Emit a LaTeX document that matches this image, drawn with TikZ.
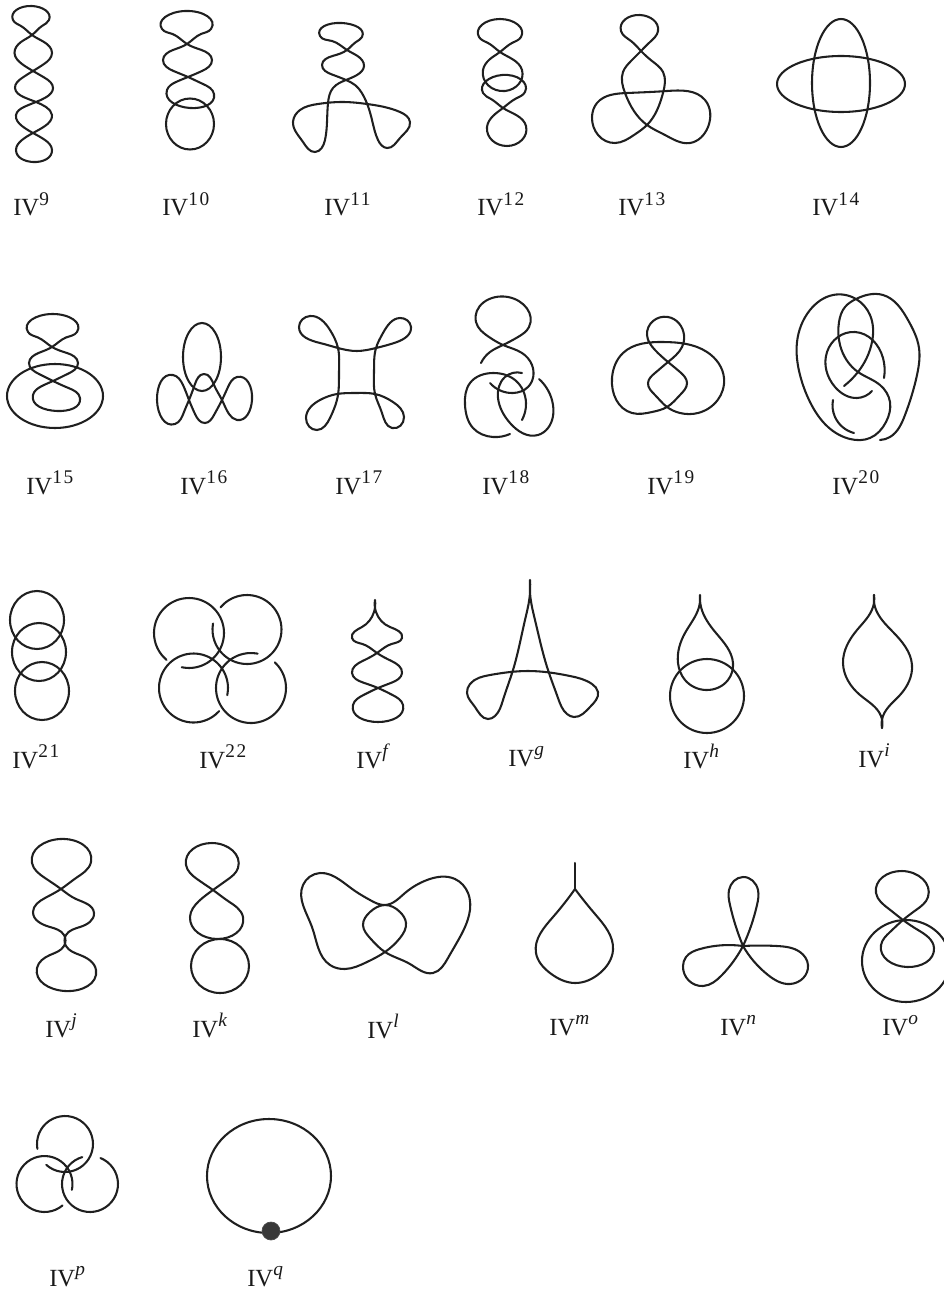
\documentclass[tikz,border=0pt]{standalone}
\usepackage{fontspec}
\setmainfont{Liberation Serif}
\usetikzlibrary{positioning,hobby}
\newcommand{\ivsup}[1]{IV\raisebox{0.44em}{\fontsize{14.5}{15}\selectfont\addfontfeatures{LetterSpace=9}#1}}
\newcommand{\ringarc}[5]{\draw[strand] plot[domain=#4:#5,samples=40,smooth] ({#1+#3*cos(\x)},{#2+#3*sin(\x)});}
\begin{document}
\begin{tikzpicture}[
  x=0.75pt,y=-0.75pt,
  strand/.style={line width=1.55pt,line cap=round,line join=round,black!88},
  knotline/.style={strand,use Hobby shortcut},
  knotloop/.style={strand,use Hobby shortcut,closed=true},
  tag/.style={anchor=base west,inner sep=0pt,font=\fontsize{18.5}{19}\selectfont,black!90},
  bead/.style={circle,draw=black!70,fill=black!78,line width=0.5pt,minimum size=13.5pt,inner sep=0pt},
]
\clip (0,0) rectangle (944,1291);

% === ROW 1 ===
\draw[knotloop] (32,6) .. (49,20) .. (42,26) .. (32,35) .. (21,42) .. (14.5,53) .. (22,64) .. (33,71) .. (45,78) .. (53,88) .. (46.5,97) .. (36,102) .. (24,107) .. (16,115) .. (22,126) .. (33,133) .. (45,140) .. (52,150) .. (33,162) .. (16,150) .. (22,140) .. (33,133) .. (45,126) .. (52,115) .. (46,107) .. (36,102) .. (23.5,97) .. (15,88) .. (22,78) .. (33,71) .. (44,64) .. (52,53) .. (44,42) .. (32,35) .. (21,26) .. (13,20);
\node[tag] (iv9) at (13,216) {\ivsup{9}};

\draw[knotloop] (185,11) .. (211,29) .. (201,34) .. (187,44) .. (173,50) .. (163,60) .. (173.5,71) .. (188,77) .. (203,84) .. (214,94) .. (190,108) .. (167,90) .. (176,82) .. (188,77) .. (202,71) .. (212,60) .. (201.5,50) .. (187,44) .. (172.5,34) .. (162,29);
\draw[strand] (190,124) ellipse (24 and 25.5);
\node[tag] (iv10) at (162,216) {\ivsup{10}};

\draw[knotloop] (342,23) .. (362,37) .. (356,42) .. (347,50) .. (332.5,56) .. (322,65) .. (332,74.5) .. (346,80) .. (355,85) .. (363,95) .. (372,120) .. (378,140) .. (387,148) .. (400,138) .. (410,122) .. (400,112) .. (367,104) .. (343,102) .. (318,104) .. (300,110) .. (293,122) .. (303,142) .. (315,152) .. (325,140) .. (328,103) .. (333,88) .. (346,80) .. (357,75) .. (364,66) .. (357.5,56) .. (347,50) .. (332,41) .. (320,36);
\node[tag] (iv11) at (324,216) {\ivsup{11}};

\draw[knotloop] (500,19) .. (521,37) .. (512,43) .. (500,52) .. (489.5,59.5) .. (483,70) .. (505,91) .. (522,70) .. (513,59.5) .. (500,52) .. (488,43) .. (479,37);
\draw[knotloop] (502,75) .. (525,92) .. (516,98.5) .. (503,108) .. (493,116) .. (487,127) .. (507,146) .. (526,126) .. (517,115.5) .. (503,108) .. (491,99) .. (483,93);
\node[tag] (iv12) at (477,216) {\ivsup{12}};

\draw[knotloop] (640,15) .. (658,31) .. (650,42) .. (641,51) .. (631,61) .. (623,72) .. (625,93) .. (647,125) .. (665,135) .. (690,143) .. (708,127) .. (705,100) .. (667,91) .. (627,93) .. (597,103) .. (592,117) .. (615,143) .. (634,135) .. (647,125) .. (663,93) .. (663,72) .. (652,61) .. (641,51) .. (631,41) .. (621,31);
\node[tag] (iv13) at (618,216) {\ivsup{13}};

\draw[strand] (841,83) ellipse (29 and 64);
\draw[strand] (841,84) ellipse (64 and 28);
\node[tag] (iv14) at (812,216) {\ivsup{14}};

% === ROW 2 ===
\draw[strand] (55,396) ellipse (48 and 32);
\draw[knotloop] (52,314) .. (77,332) .. (66,337.5) .. (52,347) .. (38.5,353) .. (29,363) .. (39,374) .. (53,381) .. (68.5,388) .. (80,398) .. (57,411) .. (33,395) .. (41,386.5) .. (53,381) .. (67.5,374) .. (78,363) .. (67,353) .. (52,347) .. (38,337.5) .. (28,332);
\node[tag] (iv15) at (26,494) {\ivsup{15}};

\draw[strand] (202,357) ellipse (19 and 34);
\draw[knotloop] (173,375) .. (157,400) .. (175,424) .. (184,412) .. (189,400) .. (195,384) .. (204,374) .. (214,385) .. (222,400) .. (229,414) .. (237,420) .. (252,400) .. (237,377) .. (228,387) .. (222,400) .. (214,415) .. (205,423) .. (195,414) .. (189,400) .. (183,385);
\node[tag] (iv16) at (180,494) {\ivsup{16}};

\draw[knotloop] (310,316) .. (330,330) .. (338,348) .. (339,372) .. (338,395) .. (330,418) .. (317,430) .. (306,418) .. (320,400) .. (337,394) .. (356,393) .. (375,394) .. (393,402) .. (404,417) .. (392,428) .. (382,413) .. (375,394) .. (374,372) .. (376,348) .. (383,333) .. (400,318) .. (411,327) .. (397,342) .. (376,348) .. (357,351) .. (338,348) .. (320,343) .. (299,327);
\node[tag] (iv17) at (335,494) {\ivsup{17}};

\draw[knotline] (481,363) .. (490,352) .. (503,345) .. (518,337) .. (529,327) .. (508,297) .. (476,322) .. (489,337) .. (503,345) .. (522,353) .. (532,365) .. (528,387) .. (513,393) .. (490,383);
\draw[knotline] (522,373) .. (505,377) .. (498,398) .. (510,423) .. (538,435) .. (548,428) .. (553,405) .. (539,379);
\draw[knotline] (510,434) .. (493,437) .. (473,428) .. (465,405) .. (470,383) .. (493,373) .. (515,380) .. (526,403) .. (522,420);
\node[tag] (iv18) at (482,494) {\ivsup{18}};

\draw[knotloop] (668,317) .. (684,335) .. (682,347) .. (668,362) .. (655,373) .. (648,383) .. (655,395) .. (667,407) .. (680,413) .. (698,413) .. (724,378) .. (707,352) .. (663,342) .. (623,353) .. (612,378) .. (632,413) .. (652,412) .. (667,407) .. (680,395) .. (687,383) .. (680,372) .. (668,362) .. (655,350) .. (647,335);
\node[tag] (iv19) at (647,494) {\ivsup{19}};

\draw[knotline] (833,400) .. (835,417) .. (854,433);
\draw[knotline] (880,440) .. (890,437) .. (905,415) .. (917,375) .. (919,348) .. (908,320) .. (883,295) .. (856,299) .. (845,307) .. (839,322) .. (840,345) .. (858,372) .. (880,385) .. (890,402) .. (886,422) .. (870,438) .. (850,439) .. (828,427) .. (810,402) .. (800,375) .. (797,342) .. (810,310) .. (833,295) .. (856,299) .. (870,315) .. (872,342) .. (858,372) .. (844,386);
\draw[knotline] (884,378) .. (883,358) .. (855,332) .. (827,352) .. (835,387) .. (857,398) .. (872,391);
\node[tag] (iv20) at (832,494) {\ivsup{20}};

% === ROW 3 ===
\draw[strand] (37,620) ellipse (27 and 29);
\draw[strand] (39,652) ellipse (27 and 29);
\draw[strand] (42,691) ellipse (27 and 29);
\node[tag] (iv21) at (12,768) {\ivsup{21}};

\ringarc{189}{633}{35}{130}{462}
\ringarc{247}{629.5}{34.5}{220}{550}
\ringarc{193.5}{688}{34.5}{42}{372}
\ringarc{251}{688}{35}{-407}{-79}
\node[tag] (iv22) at (199,768) {\ivsup{22}};

\draw[knotline] (375,600) .. (376,612) .. (390,627) .. (402,638) .. (391.5,644) .. (377,653) .. (362.5,661) .. (352,673) .. (363,682.5) .. (378,688) .. (392.5,695) .. (403,705) .. (378,722) .. (353,705) .. (363.5,695) .. (378,688) .. (392,682.5) .. (402,673) .. (391.5,661) .. (377,653) .. (362.5,644) .. (352,638) .. (362,627) .. (374,612) .. (375,600);
\node[tag] (ivf) at (356,768) {\ivsup{\textit{f}}};

\draw[knotline] (530,580) .. (530.5,598) .. (535,620) .. (548,670) .. (558,698) .. (567,714) .. (574,717) .. (590,707) .. (598,692) .. (592,684) .. (570,676) .. (528,671) .. (490,675) .. (470,684) .. (467,693) .. (475,707) .. (488,719) .. (495,716) .. (503,700) .. (513,670) .. (525,620) .. (529.5,598) .. (530,580);
\node[tag] (ivg) at (508,766) {\ivsup{\textit{g}}};

\draw[knotline] (700,595) .. (701,607) .. (716,633) .. (733,663) .. (728,680) .. (706,690) .. (685,680) .. (678,663) .. (685,633) .. (699,607) .. (700,595);
\draw[strand] (707,696) ellipse (37 and 37);
\node[tag] (ivh) at (683,768) {\ivsup{\textit{h}}};

\draw[knotline] (874,595) .. (875,607) .. (893,632) .. (912,665) .. (900,695) .. (883,716) .. (882,728);
\draw[knotline] (874,595) .. (873,607) .. (857,630) .. (843,663) .. (860,695) .. (881,716) .. (882,728);
\node[tag] (ivi) at (858,767) {\ivsup{\textit{i}}};

% === ROW 4 ===
\draw[knotloop] (60,839) .. (91,862) .. (76,878) .. (61,889) .. (45,898) .. (33,912) .. (50,927) .. (64,935) .. (64,946) .. (50,955) .. (37,968) .. (65,991) .. (96,970) .. (80,955) .. (66,946) .. (66,935) .. (80,927) .. (94,913) .. (76,899) .. (61,889) .. (45,878) .. (32,863);
\node[tag] (ivj) at (45,1037) {\ivsup{\textit{j}}};

\draw[knotloop] (212,843) .. (238,868) .. (227,880) .. (213,890) .. (199,901) .. (190,917) .. (217,939) .. (243,917) .. (228,901) .. (213,890) .. (197,879) .. (186,865);
\draw[strand] (220,966) ellipse (29 and 27);
\node[tag] (ivk) at (192,1037) {\ivsup{\textit{k}}};

\draw[knotloop] (320,873) .. (303,885) .. (312,927) .. (330,965) .. (345,969) .. (367,962) .. (385,952) .. (400,938) .. (406,923) .. (400,912) .. (385,905) .. (370,912) .. (363,925) .. (370,938) .. (385,952) .. (410,964) .. (433,973) .. (448,958) .. (460,937) .. (468,893) .. (455,879) .. (427,880) .. (405,893) .. (385,905) .. (370,900) .. (355,891) .. (340,880);
\node[tag] (ivl) at (367,1038) {\ivsup{\textit{l}}};

\draw[strand] (575,863) -- (575,889);
\draw[knotline] (575,889) .. (595,914) .. (613,950) .. (600,973) .. (575,983) .. (550,973) .. (536,953) .. (553,917) .. (575,889);
\node[tag] (ivm) at (549,1035) {\ivsup{\textit{m}}};

\draw[knotline] (743,946) .. (730,905) .. (729,890) .. (743,877) .. (758,890) .. (757,905) .. (743,946);
\draw[knotline] (743,946) .. (777,946) .. (800,952) .. (808,965) .. (790,984) .. (768,975) .. (743,946);
\draw[knotline] (743,946) .. (700,949) .. (686,957) .. (683,966) .. (703,986) .. (722,975) .. (743,946);
\node[tag] (ivn) at (720,1035) {\ivsup{\textit{n}}};

\draw[strand] (906,961) ellipse (44 and 41);
\draw[knotloop] (902,871) .. (928,897) .. (916,910) .. (903,920) .. (890,932) .. (881,945) .. (907,967) .. (934,948) .. (918,930) .. (903,920) .. (889,909) .. (876,893);
\node[tag] (ivo) at (882,1035) {\ivsup{\textit{o}}};

% === ROW 5 ===
\ringarc{65}{1144}{28}{170}{492}
\ringarc{44.5}{1184}{28}{50}{372}
\ringarc{90}{1184}{28}{-68}{254}
\node[tag] (ivp) at (49,1286) {\ivsup{\textit{p}}};

\draw[strand] (269,1176) ellipse (62 and 57);
\node[bead] (knot) at (271,1231) {};
\node[tag] (ivq) at (247,1286) {\ivsup{\textit{q}}};

\end{tikzpicture}
\end{document}
